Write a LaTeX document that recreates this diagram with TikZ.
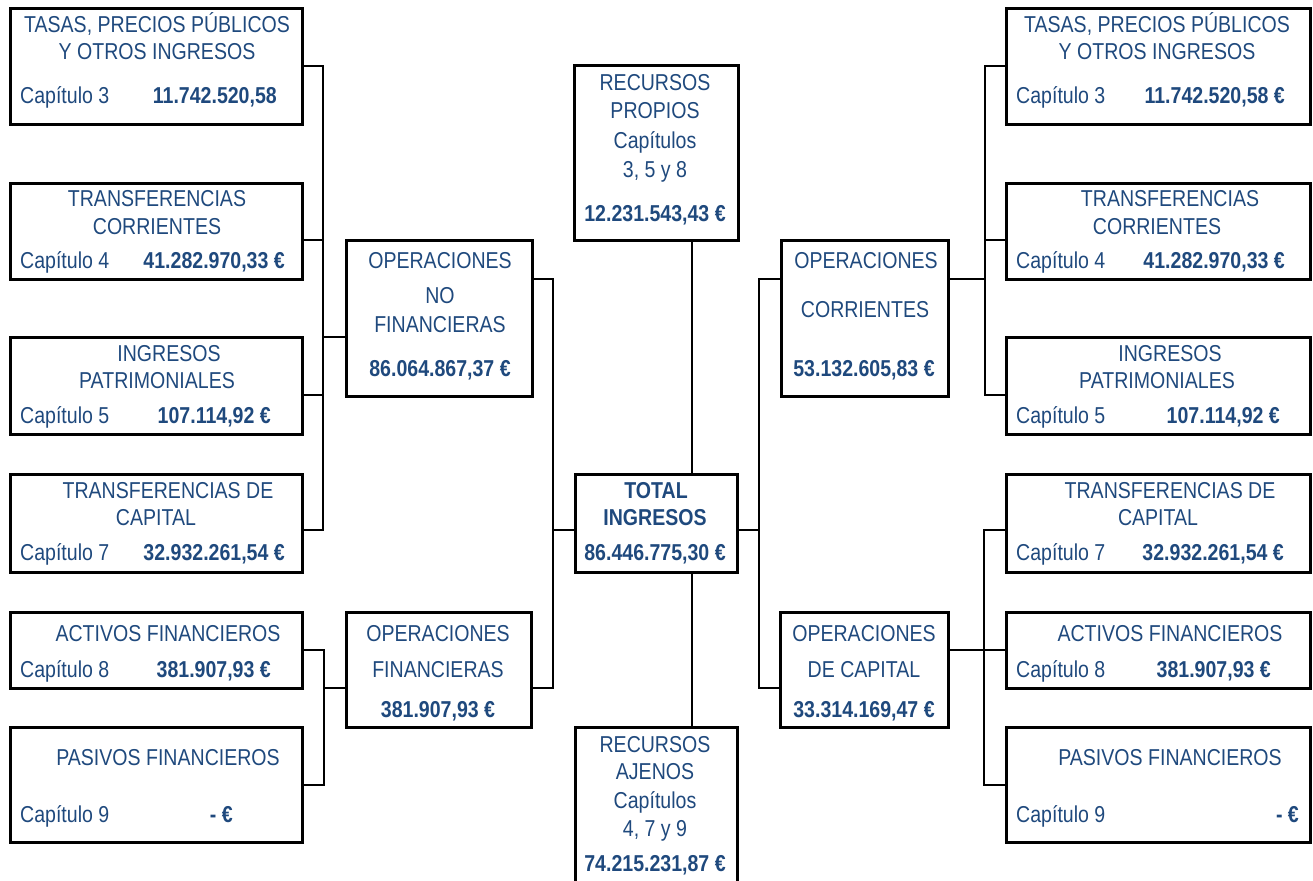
\documentclass[tikz,border=0pt]{standalone}
\usepackage{fontspec}
\setmainfont[FakeStretch=0.85]{Liberation Sans}
\definecolor{ink}{RGB}{31,73,125}
\tikzset{
  box/.style={draw, line width=3pt, inner sep=0pt, outer sep=0pt, anchor=north west},
  link/.style={line width=2pt},
  ttl/.style={inner sep=0pt, anchor=base, text=ink},
  num/.style={inner sep=0pt, anchor=base, text=ink, font=\fontsize{23}{27}\selectfont\bfseries},
  chap/.style={inner sep=0pt, anchor=base west, text=ink},
  val/.style={inner sep=0pt, anchor=base east, text=ink, font=\fontsize{23}{27}\selectfont\bfseries},
}
\begin{document}
\fontsize{23}{27}\selectfont
\begin{tikzpicture}[x=1pt,y=-1pt]
\clip (0,0) rectangle (1313,880);
% boxes, left side
\node[box, minimum width=292pt, minimum height=115pt] (lTasas) at (10,9) {};
\node[box, minimum width=292pt, minimum height=96pt] (lTrCor) at (10,183) {};
\node[box, minimum width=292pt, minimum height=97pt] (lPatr) at (10,337) {};
\node[box, minimum width=292pt, minimum height=98pt] (lTrCap) at (10,474) {};
\node[box, minimum width=292pt, minimum height=76pt] (lAct) at (10,612) {};
\node[box, minimum width=292pt, minimum height=115pt] (lPas) at (10,727) {};
\node[box, minimum width=186pt, minimum height=156pt] (opNoFin) at (346,240) {};
\node[box, minimum width=185pt, minimum height=115pt] (opFin) at (346,612) {};
% boxes, centre
\node[box, minimum width=164pt, minimum height=174pt] (recProp) at (574,66) {};
\node[box, minimum width=162pt, minimum height=98pt] (total) at (575,474) {};
\node[box, minimum width=162pt, minimum height=170pt] (recAjen) at (575,727) {};
% boxes, right side
\node[box, minimum width=167pt, minimum height=156pt] (opCor) at (781,240) {};
\node[box, minimum width=168pt, minimum height=115pt] (opCap) at (780,612) {};
\node[box, minimum width=304pt, minimum height=115pt] (rTasas) at (1006,9) {};
\node[box, minimum width=304pt, minimum height=96pt] (rTrCor) at (1006,183) {};
\node[box, minimum width=304pt, minimum height=97pt] (rPatr) at (1006,337) {};
\node[box, minimum width=304pt, minimum height=98pt] (rTrCap) at (1006,474) {};
\node[box, minimum width=304pt, minimum height=76pt] (rAct) at (1006,612) {};
\node[box, minimum width=304pt, minimum height=115pt] (rPas) at (1006,727) {};

% connectors
\coordinate (jA) at (323,0);
\draw[link] (lTasas.east) -- (jA |- lTasas.east) -- (jA |- 0,530) -- (lTrCap.east |- 0,530);
\draw[link] (lTrCor.east |- 0,240) -- (jA |- 0,240);
\draw[link] (lPatr.east |- 0,395) -- (jA |- 0,395);
\draw[link] (jA |- 0,337) -- (opNoFin.west |- 0,337);
\coordinate (jB) at (324,0);
\draw[link] (lAct.east) -- (jB |- lAct.east) -- (jB |- lPas.east) -- (lPas.east);
\draw[link] (jB |- 0,688) -- (opFin.west |- 0,688);
\coordinate (jC) at (553,0);
\draw[link] (opNoFin.east |- 0,279) -- (jC |- 0,279) -- (jC |- 0,688) -- (opFin.east |- 0,688);
\draw[link] (jC |- 0,530) -- (total.west |- 0,530);
\coordinate (jD) at (759,0);
\draw[link] (opCor.west |- 0,279) -- (jD |- 0,279) -- (jD |- 0,688) -- (opCap.west |- 0,688);
\draw[link] (total.east |- 0,530) -- (jD |- 0,530);
\coordinate (jE) at (692,0);
\draw[link] (jE |- recProp.south) -- (jE |- total.north);
\draw[link] (jE |- total.south) -- (jE |- recAjen.north);
\coordinate (jF) at (985,0);
\draw[link] (opCor.east |- 0,279) -- (jF |- 0,279);
\draw[link] (rTasas.west) -- (jF |- rTasas.west) -- (jF |- 0,395) -- (rPatr.west |- 0,395);
\draw[link] (rTrCor.west |- 0,240) -- (jF |- 0,240);
\coordinate (jG) at (984,0);
\draw[link] (rTrCap.west |- 0,530) -- (jG |- 0,530) -- (jG |- rPas.west) -- (rPas.west);
\draw[link] (opCap.east |- rAct.west) -- (rAct.west);

% texts, left side
\node[ttl] (lTasas1) at (157,33) {TASAS, PRECIOS PÚBLICOS};
\node[ttl] (lTasas2) at (157,60) {Y OTROS INGRESOS};
\node[chap] (lTasasC) at (20,104) {Capítulo 3};
\node[val] (lTasasV) at (277,104) {11.742.520,58};
\node[ttl] (lTrCor1) at (157,206) {TRANSFERENCIAS};
\node[ttl] (lTrCor2) at (157,234) {CORRIENTES};
\node[chap] (lTrCorC) at (20,268) {Capítulo 4};
\node[val] (lTrCorV) at (285,268) {41.282.970,33 €};
\node[ttl] (lPatr1) at (169,361) {INGRESOS};
\node[ttl] (lPatr2) at (157,388) {PATRIMONIALES};
\node[chap] (lPatrC) at (20,423) {Capítulo 5};
\node[val] (lPatrV) at (271,423) {107.114,92 €};
\node[ttl] (lTrCap1) at (168,498) {TRANSFERENCIAS DE};
\node[ttl] (lTrCap2) at (156,525) {CAPITAL};
\node[chap] (lTrCapC) at (20,560) {Capítulo 7};
\node[val] (lTrCapV) at (285,560) {32.932.261,54 €};
\node[ttl] (lAct1) at (168,641) {ACTIVOS FINANCIEROS};
\node[chap] (lActC) at (20,677) {Capítulo 8};
\node[val] (lActV) at (271,677) {381.907,93 €};
\node[ttl] (lPas1) at (168,765) {PASIVOS FINANCIEROS};
\node[chap] (lPasC) at (20,822) {Capítulo 9};
\node[val] (lPasV) at (233,822) {- €};
\node[ttl] (opNoFin1) at (440,268) {OPERACIONES};
\node[ttl] (opNoFin2) at (440,303) {NO};
\node[ttl] (opNoFin3) at (440,332) {FINANCIERAS};
\node[num] (opNoFinV) at (440,376) {86.064.867,37 €};
\node[ttl] (opFin1) at (438,641) {OPERACIONES};
\node[ttl] (opFin2) at (438,677) {FINANCIERAS};
\node[num] (opFinV) at (438,717) {381.907,93 €};

% texts, centre
\node[ttl] (recProp1) at (655,91) {RECURSOS};
\node[ttl] (recProp2) at (655,118) {PROPIOS};
\node[ttl] (recProp3) at (655,148) {Capítulos};
\node[ttl] (recProp4) at (655,177) {3, 5 y 8};
\node[num] (recPropV) at (655,221) {12.231.543,43 €};
\node[num] (total1) at (656,498) {TOTAL};
\node[num] (total2) at (655,525) {INGRESOS};
\node[num] (totalV) at (655,560) {86.446.775,30 €};
\node[ttl] (recAjen1) at (655,752) {RECURSOS};
\node[ttl] (recAjen2) at (655,779) {AJENOS};
\node[ttl] (recAjen3) at (655,808) {Capítulos};
\node[ttl] (recAjen4) at (655,836) {4, 7 y 9};
\node[num] (recAjenV) at (655,871) {74.215.231,87 €};

% texts, right side
\node[ttl] (opCor1) at (866,268) {OPERACIONES};
\node[ttl] (opCor2) at (865,317) {CORRIENTES};
\node[num] (opCorV) at (864,376) {53.132.605,83 €};
\node[ttl] (opCap1) at (864,641) {OPERACIONES};
\node[ttl] (opCap2) at (864,677) {DE CAPITAL};
\node[num] (opCapV) at (864,717) {33.314.169,47 €};
\node[ttl] (rTasas1) at (1157,33) {TASAS, PRECIOS PÚBLICOS};
\node[ttl] (rTasas2) at (1157,60) {Y OTROS INGRESOS};
\node[chap] (rTasasC) at (1016,104) {Capítulo 3};
\node[val] (rTasasV) at (1285,104) {11.742.520,58 €};
\node[ttl] (rTrCor1) at (1170,206) {TRANSFERENCIAS};
\node[ttl] (rTrCor2) at (1157,234) {CORRIENTES};
\node[chap] (rTrCorC) at (1016,268) {Capítulo 4};
\node[val] (rTrCorV) at (1285,268) {41.282.970,33 €};
\node[ttl] (rPatr1) at (1170,361) {INGRESOS};
\node[ttl] (rPatr2) at (1157,388) {PATRIMONIALES};
\node[chap] (rPatrC) at (1016,423) {Capítulo 5};
\node[val] (rPatrV) at (1280,423) {107.114,92 €};
\node[ttl] (rTrCap1) at (1170,498) {TRANSFERENCIAS DE};
\node[ttl] (rTrCap2) at (1158,525) {CAPITAL};
\node[chap] (rTrCapC) at (1016,560) {Capítulo 7};
\node[val] (rTrCapV) at (1284,560) {32.932.261,54 €};
\node[ttl] (rAct1) at (1170,641) {ACTIVOS FINANCIEROS};
\node[chap] (rActC) at (1016,677) {Capítulo 8};
\node[val] (rActV) at (1271,677) {381.907,93 €};
\node[ttl] (rPas1) at (1170,765) {PASIVOS FINANCIEROS};
\node[chap] (rPasC) at (1016,822) {Capítulo 9};
\node[val] (rPasV) at (1299,822) {- €};
\end{tikzpicture}
\end{document}
